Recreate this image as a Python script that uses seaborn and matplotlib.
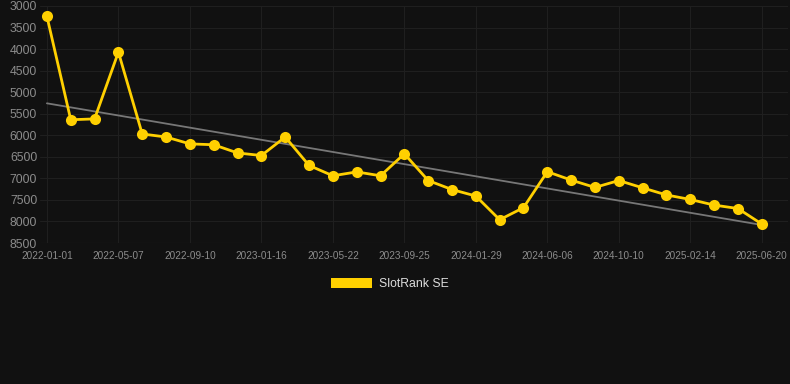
import matplotlib
matplotlib.use("Agg")
from matplotlib import pyplot as plt
from matplotlib.patches import Patch
import numpy as np
import pandas as pd
import seaborn as sns

# tick labels shown on the x axis (every third point)
date_labels = ["2022-01-01", "2022-05-07", "2022-09-10", "2023-01-16", "2023-05-22",
               "2023-09-25", "2024-01-29", "2024-06-06", "2024-10-10", "2025-02-14",
               "2025-06-20"]

# rank values
rank = [3240, 5640, 5620, 4070, 5970, 6040, 6200, 6220, 6410, 6470,
        6040, 6700, 6940, 6850, 6940, 6430, 7050, 7260, 7410, 7960,
        7680, 6845, 7040, 7210, 7050, 7220, 7385, 7490, 7620, 7700,
        8060]

df = pd.DataFrame({"idx": np.arange(len(rank)), "rank": rank})

# linear trend of the series
coef = np.polyfit(df["idx"], df["rank"], 1)
df["trend"] = np.polyval(coef, df["idx"])

bg = "#111111"
sns.set_style("dark")
plt.rcParams["font.family"] = ["Liberation Sans", "DejaVu Sans"]

fig = plt.figure(figsize=(7.9, 3.84), dpi=100, facecolor=bg)
ax = fig.add_axes([40/790, 1 - 243/384, 748/790, 237/384])
ax.set_facecolor(bg)

sns.lineplot(data=df, x="idx", y="trend", ax=ax, color="#777777", linewidth=1.3)
sns.lineplot(data=df, x="idx", y="rank", ax=ax, color="#FFD000", linewidth=2,
             marker="o", markersize=8, markeredgewidth=0)

ax.set_ylim(8500, 3000)
ax.set_yticks(np.arange(3000, 8501, 500))
ax.set_xlim(-0.29, 31.1)
ax.set_xticks(np.arange(0, len(rank), 3))
ax.set_xticklabels(date_labels)
ax.tick_params(axis="y", labelsize=8.8, colors="#8c8c8c", length=0, pad=2)
ax.tick_params(axis="x", labelsize=7.2, colors="#8c8c8c", length=4, width=0.8, pad=2)
for t in ax.get_xticklines():
    t.set_color("#262626")
ax.grid(True, color="#1f1f1f", linewidth=0.8)
ax.set_xlabel("")
ax.set_ylabel("")
for s in ax.spines.values():
    s.set_visible(False)
ax.axhline(8500, color="#2a2a2a", linewidth=0.8)

leg = fig.legend(handles=[Patch(facecolor="#FFD000", edgecolor="none", label="SlotRank SE")],
                 loc="center", bbox_to_anchor=(390/790, 1 - 284/384), frameon=False,
                 fontsize=8.8, handlelength=3.3, handleheight=0.9, handletextpad=0.6)
for t in leg.get_texts():
    t.set_color("#dddddd")

fig.savefig("out.png", dpi=100, facecolor=bg)
